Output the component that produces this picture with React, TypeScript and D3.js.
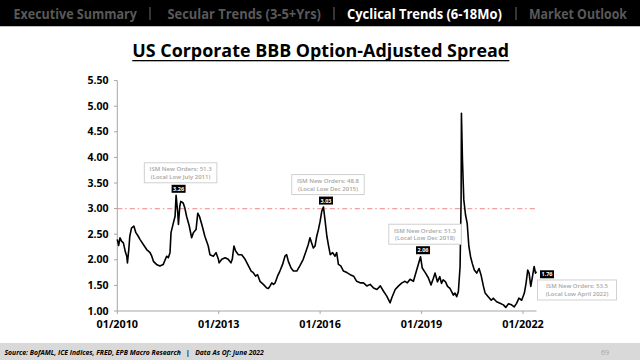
import React from "react";
import * as d3 from "d3";

const dates: number[] = [
  2010.0, 2010.04, 2010.08, 2010.13, 2010.18, 2010.24, 2010.28, 2010.3, 2010.34, 2010.37,
  2010.42, 2010.49, 2010.55, 2010.62, 2010.67, 2010.77, 2010.87, 2010.97, 2011.02, 2011.07,
  2011.16, 2011.26, 2011.36, 2011.46, 2011.51, 2011.56, 2011.59, 2011.66, 2011.71, 2011.74,
  2011.79, 2011.81, 2011.85, 2011.88, 2011.95, 2012.0, 2012.05, 2012.13, 2012.2, 2012.25,
  2012.33, 2012.38, 2012.43, 2012.5, 2012.59, 2012.69, 2012.74, 2012.84, 2012.92, 2012.99,
  2013.01, 2013.09, 2013.19, 2013.28, 2013.36, 2013.4, 2013.45, 2013.5, 2013.58, 2013.68,
  2013.78, 2013.88, 2013.96, 2014.02, 2014.09, 2014.15, 2014.22, 2014.32, 2014.42, 2014.47,
  2014.52, 2014.57, 2014.62, 2014.67, 2014.74, 2014.81, 2014.89, 2014.96, 2015.01, 2015.06,
  2015.14, 2015.21, 2015.31, 2015.4, 2015.5, 2015.6, 2015.65, 2015.7, 2015.75, 2015.8,
  2015.85, 2015.9, 2015.95, 2016.0, 2016.05, 2016.1, 2016.15, 2016.2, 2016.25, 2016.3,
  2016.37, 2016.44, 2016.49, 2016.54, 2016.61, 2016.69, 2016.79, 2016.89, 2016.99, 2017.08,
  2017.18, 2017.28, 2017.38, 2017.48, 2017.58, 2017.68, 2017.78, 2017.87, 2017.97, 2018.07,
  2018.12, 2018.22, 2018.32, 2018.42, 2018.51, 2018.58, 2018.66, 2018.76, 2018.86, 2018.97,
  2019.02, 2019.11, 2019.2, 2019.28, 2019.35, 2019.4, 2019.47, 2019.54, 2019.59, 2019.64,
  2019.71, 2019.77, 2019.84, 2019.89, 2019.94, 2019.99, 2020.04, 2020.09, 2020.14, 2020.17,
  2020.18, 2020.21, 2020.25, 2020.3, 2020.35, 2020.4, 2020.45, 2020.5, 2020.56, 2020.63,
  2020.7, 2020.76, 2020.83, 2020.88, 2020.97, 2021.06, 2021.12, 2021.22, 2021.32, 2021.42,
  2021.49, 2021.57, 2021.66, 2021.74, 2021.81, 2021.88, 2021.96, 2022.04, 2022.09, 2022.14,
  2022.18, 2022.23, 2022.28, 2022.33, 2022.37, 2022.4,
];

const spread: number[] = [
  2.4, 2.28, 2.43, 2.36, 2.33, 2.15, 2.07, 1.94, 2.2, 2.46,
  2.62, 2.66, 2.53, 2.46, 2.4, 2.3, 2.2, 2.14, 2.07, 1.97,
  1.91, 1.88, 1.91, 2.07, 2.04, 2.14, 2.53, 2.72, 2.85, 3.26,
  2.91, 2.69, 3.05, 3.14, 3.11, 3.01, 2.85, 2.66, 2.43, 2.53,
  2.59, 2.91, 2.85, 2.69, 2.46, 2.27, 2.1, 2.07, 2.14, 2.01,
  1.94, 2.01, 2.04, 2.01, 1.94, 2.01, 2.27, 2.17, 2.1, 2.1,
  2.01, 1.88, 1.78, 1.75, 1.68, 1.71, 1.58, 1.52, 1.45, 1.44,
  1.49, 1.55, 1.52, 1.55, 1.68, 1.78, 1.91, 2.07, 2.1, 1.97,
  1.84, 1.78, 1.78, 1.88, 2.01, 2.2, 2.3, 2.43, 2.33, 2.23,
  2.27, 2.46, 2.59, 2.75, 2.95, 3.03, 2.75, 2.46, 2.27, 2.1,
  2.14, 2.07, 2.14, 1.91, 1.88, 1.78, 1.75, 1.71, 1.68, 1.58,
  1.55, 1.55, 1.49, 1.52, 1.45, 1.42, 1.49, 1.39, 1.29, 1.16,
  1.26, 1.42, 1.49, 1.55, 1.58, 1.55, 1.62, 1.58, 1.81, 2.06,
  1.84, 1.75, 1.65, 1.51, 1.64, 1.74, 1.57, 1.67, 1.54, 1.61,
  1.57, 1.48, 1.44, 1.38, 1.31, 1.35, 1.28, 1.38, 1.87, 3.17,
  4.86, 3.95, 3.17, 2.88, 2.71, 2.26, 2.06, 1.93, 1.8, 1.74,
  1.83, 1.7, 1.48, 1.35, 1.28, 1.21, 1.25, 1.18, 1.15, 1.12,
  1.07, 1.14, 1.12, 1.08, 1.15, 1.25, 1.21, 1.35, 1.54, 1.8,
  1.74, 1.48, 1.67, 1.87, 1.74, 1.77,
];

const yTicks: number[] = [1.0, 1.5, 2.0, 2.5, 3.0, 3.5, 4.0, 4.5, 5.0, 5.5];
const xTickYears: number[] = [2010, 2013, 2016, 2019, 2022];
const threshold = 3.0;

const navItems = [
  { label: "Executive Summary", active: false },
  { label: "Secular Trends (3-5+Yrs)", active: false },
  { label: "Cyclical Trends (6-18Mo)", active: true },
  { label: "Market Outlook", active: false },
];

const callouts = [
  { date: 2011.74, value: "3.26", line1: "ISM New Orders: 51.3", line2: "(Local Low July 2011)" },
  { date: 2016.1, value: "3.03", line1: "ISM New Orders: 48.8", line2: "(Local Low Dec 2015)" },
  { date: 2018.97, value: "2.06", line1: "ISM New Orders: 51.3", line2: "(Local Low Dec 2018)" },
  { date: 2022.4, value: "1.76", line1: "ISM New Orders: 53.5", line2: "(Local Low April 2022)" },
];

const toDate = (y: number) => {
  const yr = Math.floor(y);
  const s = new Date(yr, 0, 1).getTime();
  const e = new Date(yr + 1, 0, 1).getTime();
  return new Date(s + (y - yr) * (e - s));
};

const FONT = "'Open Sans', 'Noto Sans', sans-serif";

let measureCtx: CanvasRenderingContext2D | null = null;
const measure = (txt: string, font: string, fallbackPerChar: number) => {
  try {
    if (!measureCtx) measureCtx = document.createElement("canvas").getContext("2d");
    if (measureCtx) {
      measureCtx.font = font;
      const w = measureCtx.measureText(txt).width;
      if (w > 0) return w;
    }
  } catch (e) {}
  return txt.length * fallbackPerChar;
};

function FitText(props: {
  x: number;
  y: number;
  width: number;
  size: number;
  weight?: number;
  italic?: boolean;
  fill: string;
  children: string;
}) {
  const { x, y, width, size, weight = 400, italic = false, fill, children } = props;
  const natural = measure(children, `${italic ? "italic " : ""}${weight} ${size}px 'Open Sans'`, size * 0.58);
  const sx = width / natural;
  return (
    <text
      transform={`translate(${x},${y}) scale(${sx},1)`}
      fontFamily={FONT}
      fontWeight={weight}
      fontStyle={italic ? "italic" : "normal"}
      fontSize={size}
      fill={fill}
      style={{ whiteSpace: "pre" }}
    >
      {children}
    </text>
  );
}

export default function App() {
  const W = 640, H = 360;
  const n = Math.min(dates.length, spread.length);
  const x = d3.scaleTime().domain([toDate(2010), toDate(2022)]).range([117.3, 523]);
  const y = d3.scaleLinear().domain([1, 5.5]).range([311, 80.6]);
  const pts: [number, number][] = [];
  for (let i = 0; i < n; i++) pts.push([x(toDate(dates[i])), y(spread[i])]);
  const line = d3.line<[number, number]>().x((p) => p[0]).y((p) => p[1]);
  const xEnd = pts[pts.length - 1][0];
  const fmtX = d3.timeFormat("%m/%Y");
  const fmtY = d3.format(".2f");

  const navPos = [
    { x: 13.5, w: 123.5 },
    { x: 167.5, w: 153.5 },
    { x: 347, w: 155 },
    { x: 529, w: 98 },
  ];
  const sepX = [150, 334, 516];

  return (
    <div style={{ position: "absolute", left: 0, top: 0 }}>
      <svg width={W} height={H} style={{ display: "block", background: "#fff" }}>
        <rect x={0} y={0} width={W} height={26} fill="#000" />
        <rect x={0} y={26} width={W} height={1} fill="#bfbfbf" />
        {navItems.map((nv, i) => (
          <FitText
            key={nv.label}
            x={navPos[i].x}
            y={18.5}
            width={navPos[i].w}
            size={15}
            weight={700}
            fill={nv.active ? "#fff" : "#595959"}
          >
            {nv.label}
          </FitText>
        ))}
        {sepX.map((sx) => (
          <rect key={sx} x={sx - 0.6} y={7} width={1.2} height={13} fill="#595959" />
        ))}

        <FitText x={132.3} y={57.3} width={377} size={17} weight={700} fill="#000">
          US Corporate BBB Option-Adjusted Spread
        </FitText>
        <rect x={132.3} y={60} width={377} height={1.3} fill="#000" />

        <line
          x1={x(toDate(2010))}
          x2={xEnd}
          y1={y(threshold)}
          y2={y(threshold)}
          stroke="#f2a0a0"
          strokeWidth={1.2}
          strokeDasharray="5,3,1.5,3"
        />

        <line x1={117.3} x2={117.3} y1={y(5.5)} y2={y(1)} stroke="#a6a6a6" strokeWidth={1} />
        {yTicks.map((t) => (
          <g key={t}>
            <line x1={114} x2={117.3} y1={y(t)} y2={y(t)} stroke="#a6a6a6" strokeWidth={1} />
            <text x={108.5} y={y(t) + 3.5} textAnchor="end" fontFamily={FONT} fontWeight={700} fontSize={10.5} fill="#000">
              {fmtY(t)}
            </text>
          </g>
        ))}

        <line x1={117.3} x2={xEnd} y1={y(1)} y2={y(1)} stroke="#a6a6a6" strokeWidth={1} />
        {xTickYears.map((yr) => {
          const tx = x(toDate(yr));
          return (
            <g key={yr}>
              <line x1={tx} x2={tx} y1={y(1)} y2={y(1) + 3} stroke="#a6a6a6" strokeWidth={1} />
              <text x={tx} y={328.3} textAnchor="middle" fontFamily={FONT} fontWeight={700} fontSize={10.8} fill="#000">
                {fmtX(toDate(yr))}
              </text>
            </g>
          );
        })}

        <path d={line(pts) || ""} fill="none" stroke="#000" strokeWidth={1.6} strokeLinejoin="round" />

        {callouts.map((c, i) => {
          let idx = dates.findIndex((d) => Math.abs(d - c.date) < 1e-6);
          if (idx < 0 || idx >= n) idx = n - 1;
          const [px, py] = pts[idx];
          const last = i === callouts.length - 1;
          const lx = last ? px + 10.5 : px + 2.5;
          const ly = last ? py + 2.7 : py - 6.5;
          const bw = last ? 79 : 72.5;
          const bx = last ? px + 1 : px + 4.5 - bw / 2;
          const by = last ? py + 8.4 : py - 32.5;
          return (
            <g key={c.value}>
              <rect x={bx} y={by} width={bw} height={20} fill="#fff" stroke="#d0d0d0" strokeWidth={1} />
              <text x={bx + bw / 2} y={by + 8.3} textAnchor="middle" fontFamily={FONT} fontWeight={600} fontSize={6} fill="#a6a6a6">
                {c.line1}
              </text>
              <text x={bx + bw / 2} y={by + 16} textAnchor="middle" fontFamily={FONT} fontWeight={600} fontSize={6} fill="#a6a6a6">
                {c.line2}
              </text>
              <rect x={lx - 7} y={ly - 4} width={14} height={8} fill="#000" />
              <text x={lx} y={ly + 2} textAnchor="middle" fontFamily={FONT} fontWeight={700} fontSize={5.5} fill="#fff">
                {c.value}
              </text>
            </g>
          );
        })}

        <rect x={0} y={343} width={W} height={17} fill="#d9d9d9" />
        <FitText x={4.5} y={354.5} width={260} size={7} weight={700} italic fill="#000">
          {"Source: BofAML, ICE Indices, FRED, EPB Macro Research   |   Data As Of: June 2022"}
        </FitText>
        <text x={605} y={354.5} textAnchor="middle" fontFamily={FONT} fontSize={7} fill="#a6a6a6">
          69
        </text>
      </svg>
    </div>
  );
}
